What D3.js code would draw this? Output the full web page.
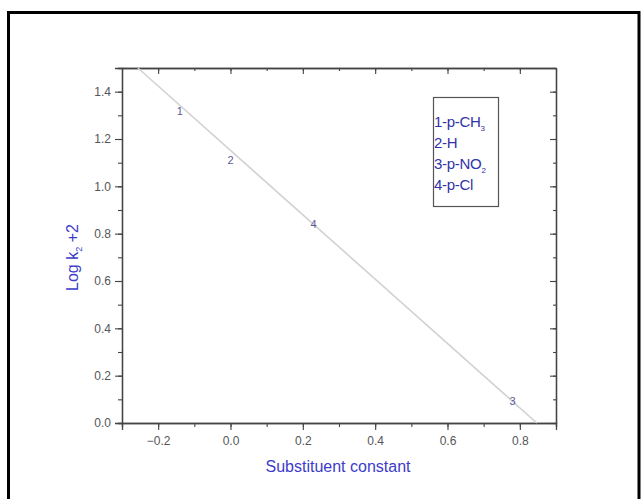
<!DOCTYPE html>
<html>
<head>
<meta charset="utf-8">
<script src="https://cdn.jsdelivr.net/npm/d3@7"></script>
<style>
  html, body { margin: 0; padding: 0; background: #fff; }
  svg text { font-family: "Liberation Sans", Arial, sans-serif; }
</style>
</head>
<body>
<svg id="chart" width="641" height="499"></svg>
<script>
// ---- data ----
const pointLabels = ["1", "2", "3", "4"];
const sigma = [-0.14, 0.0, 0.78, 0.23];
const logK = [1.32, 1.11, 0.095, 0.84];
const fitX = [-0.256, 0.847];
const fitY = [1.5, 0.0];
const xTicks = [-0.2, 0.0, 0.2, 0.4, 0.6, 0.8];
const yTicks = [0.0, 0.2, 0.4, 0.6, 0.8, 1.0, 1.2, 1.4];
const legendItems = [["1-p-CH", "3"], ["2-H", ""], ["3-p-NO", "2"], ["4-p-Cl", ""]];
const xTitle = "Substituent constant";

const svg = d3.select("#chart");
const L = 122, R = 556, T = 68, B = 423;
const x = d3.scaleLinear().domain([-0.3, 0.9]).range([L, R]);
const y = d3.scaleLinear().domain([0, 1.5]).range([B, T]);

// outer frame
svg.append("rect").attr("x", 8.5).attr("y", 12.5).attr("width", 630.5).attr("height", 500)
  .attr("fill", "none").attr("stroke", "#000").attr("stroke-width", 3);

const axisColor = "#444";
const minorX = d3.range(-0.3, 0.9001, 0.1);
const minorY = d3.range(0, 1.5001, 0.1);

function styleAxis(g) {
  g.selectAll("path").attr("stroke", axisColor).attr("stroke-width", 1.3);
  g.selectAll("line").attr("stroke", axisColor).attr("stroke-width", 1.1);
  g.selectAll("text").attr("fill", "#555").style("font-size", "12px");
}

// bottom minor
svg.append("g").attr("transform", `translate(0,${B})`)
  .call(d3.axisBottom(x).tickValues(minorX).tickSize(4).tickFormat(""))
  .call(styleAxis);
// bottom major
svg.append("g").attr("transform", `translate(0,${B})`)
  .call(d3.axisBottom(x).tickValues(xTicks).tickSize(7).tickPadding(6).tickFormat(d3.format(".1f")))
  .call(styleAxis);
// top (inward)
svg.append("g").attr("transform", `translate(0,${T})`)
  .call(d3.axisBottom(x).tickValues(minorX).tickSize(3).tickFormat("").tickSizeOuter(0))
  .call(styleAxis);
svg.append("g").attr("transform", `translate(0,${T})`)
  .call(d3.axisBottom(x).tickValues(xTicks).tickSize(6).tickFormat("").tickSizeOuter(0))
  .call(styleAxis);
// left minor
svg.append("g").attr("transform", `translate(${L},0)`)
  .call(d3.axisLeft(y).tickValues(minorY).tickSize(4).tickFormat(""))
  .call(styleAxis);
// left major
svg.append("g").attr("transform", `translate(${L},0)`)
  .call(d3.axisLeft(y).tickValues(yTicks).tickSize(7).tickPadding(4).tickFormat(d3.format(".1f")))
  .call(styleAxis);
// right (inward)
svg.append("g").attr("transform", `translate(${R},0)`)
  .call(d3.axisRight(y).tickValues(minorY).tickSize(-3).tickFormat("").tickSizeOuter(0))
  .call(styleAxis);
svg.append("g").attr("transform", `translate(${R},0)`)
  .call(d3.axisRight(y).tickValues(yTicks).tickSize(-6).tickFormat("").tickSizeOuter(0))
  .call(styleAxis);

// fit line
const fitData = fitX.map((d, i) => [d, fitY[i]]);
svg.append("path").datum(fitData)
  .attr("d", d3.line().x(d => x(d[0])).y(d => y(d[1])))
  .attr("fill", "none").attr("stroke", "#d2d2d2").attr("stroke-width", 1.6);

// point labels
svg.append("g").selectAll("text").data(pointLabels).join("text")
  .attr("x", (d, i) => x(sigma[i]))
  .attr("y", (d, i) => y(logK[i]))
  .attr("text-anchor", "middle").attr("dominant-baseline", "central")
  .attr("fill", "#5a5a98").style("font-size", "11px")
  .text(d => d);

// legend
const lg = svg.append("g");
lg.append("rect").attr("x", 433.5).attr("y", 97.5).attr("width", 65).attr("height", 109)
  .attr("fill", "#fff").attr("stroke", "#555").attr("stroke-width", 1.2);
legendItems.forEach((item, i) => {
  const t = lg.append("text").attr("x", 434).attr("y", 127 + i * 21)
    .attr("fill", "#3232a8").style("font-size", "15px").style("letter-spacing", "-0.3px");
  t.append("tspan").text(item[0]);
  if (item[1]) t.append("tspan").attr("dy", 4).style("font-size", "8px").text(item[1]);
});

// axis titles
svg.append("text").attr("x", (L + R) / 2 - 1).attr("y", 472)
  .attr("text-anchor", "middle").attr("fill", "#3c3cc8").style("font-size", "16px")
  .text(xTitle);

const yt = svg.append("text").attr("transform", `translate(78,${(T + B) / 2 + 12}) rotate(-90)`)
  .attr("text-anchor", "middle").attr("fill", "#3c3cc8").style("font-size", "16px");
yt.append("tspan").text("Log k");
yt.append("tspan").attr("dy", 4).style("font-size", "9px").text("2");
yt.append("tspan").attr("dy", -4).text(" +2");
</script>
</body>
</html>
